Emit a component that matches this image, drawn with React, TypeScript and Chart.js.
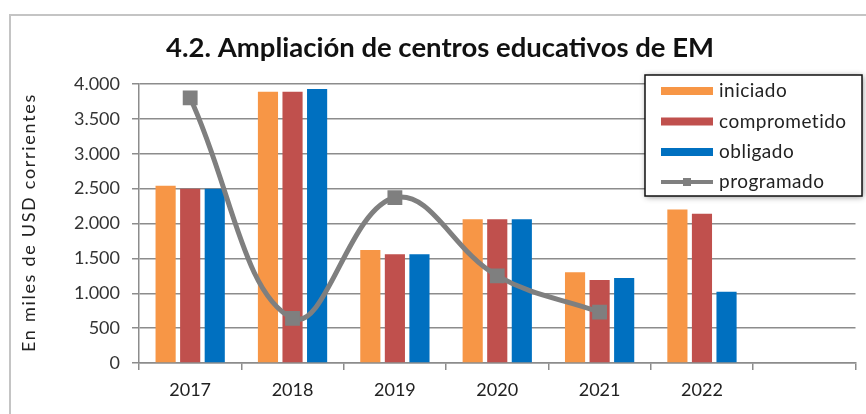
import { useEffect, useRef } from "react";
import { Chart, registerables } from "chart.js";

Chart.register(...registerables);

const categories = ["2017", "2018", "2019", "2020", "2021", "2022", ""];
const iniciado = [2540, 3890, 1620, 2060, 1300, 2200, null];
const comprometido = [2500, 3890, 1560, 2060, 1190, 2140, null];
const obligado = [2500, 3930, 1560, 2060, 1220, 1020, null];
const programado = [3800, 640, 2370, 1250, 730, null, null];
const yMin = 0;
const yMax = 4000;
const yStep = 500;

const chartTitle = "4.2. Ampliación de centros educativos de EM";
const yAxisTitle = "En miles de USD corrientes";

const seriesNames = ["iniciado", "comprometido", "obligado", "programado"];
const seriesColors = ["#F79646", "#C0504D", "#0070C0", "#7F7F7F"];

const FONT = "Lato, 'Open Sans', sans-serif";
const GRID = "#8c8c8c";

function fmt(v: number): string {
  return String(v).replace(/\B(?=(\d{3})+(?!\d))/g, ".");
}

const framePlugin = {
  id: "frame",
  beforeDraw(chart: any) {
    const ctx = chart.ctx;
    ctx.save();
    ctx.fillStyle = "#ffffff";
    ctx.fillRect(0, 0, chart.width, chart.height);
    ctx.strokeStyle = "#c4c4c4";
    ctx.lineWidth = 2;
    ctx.beginPath();
    ctx.moveTo(10, chart.height);
    ctx.lineTo(10, 15);
    ctx.lineTo(chart.width, 15);
    ctx.stroke();
    ctx.restore();
  },
  afterDraw(chart: any) {
    const ctx = chart.ctx;
    ctx.save();
    // title
    ctx.letterSpacing = "0px";
    ctx.fillStyle = "#111111";
    ctx.font = `bold 27.5px ${FONT}`;
    ctx.textAlign = "center";
    ctx.textBaseline = "alphabetic";
    ctx.fillText(chartTitle, 440, 57);

    // y axis title
    const area = chart.chartArea;
    ctx.save();
    ctx.letterSpacing = "1.7px";
    ctx.font = `18px ${FONT}`;
    ctx.fillStyle = "#222222";
    ctx.translate(35, (area.top + area.bottom) / 2 - 1);
    ctx.rotate(-Math.PI / 2);
    ctx.textAlign = "center";
    ctx.textBaseline = "alphabetic";
    ctx.fillText(yAxisTitle, 0, 0);
    ctx.restore();

    // legend box
    const bx = 645, by = 75, bw = 217, bh = 121;
    ctx.save();
    ctx.shadowColor = "rgba(0,0,0,0.45)";
    ctx.shadowBlur = 6;
    ctx.shadowOffsetX = 1;
    ctx.shadowOffsetY = 1;
    ctx.fillStyle = "#ffffff";
    ctx.fillRect(bx, by, bw, bh);
    ctx.restore();
    ctx.strokeStyle = "#111111";
    ctx.lineWidth = 1.5;
    ctx.strokeRect(bx, by, bw, bh);

    const rowY = [91, 121.5, 152, 182];
    ctx.letterSpacing = "0.5px";
    ctx.font = `19px ${FONT}`;
    ctx.textAlign = "left";
    ctx.textBaseline = "middle";
    seriesNames.forEach((name, i) => {
      const y = rowY[i];
      ctx.fillStyle = seriesColors[i];
      if (i < 3) {
        ctx.fillRect(661, y - 4, 52, 8);
      } else {
        ctx.fillRect(661, y - 2, 52, 4);
        ctx.fillRect(683, y - 4, 8, 8);
      }
      ctx.fillStyle = "#222222";
      ctx.fillText(name, 719, y);
    });
    ctx.restore();
  },
};

export default function App() {
  const ref = useRef<HTMLCanvasElement>(null);

  useEffect(() => {
    document.body.style.overflow = "hidden";
    const canvas = ref.current;
    if (!canvas) return;
    const chart = new Chart(canvas, {
      type: "bar",
      data: {
        labels: categories,
        datasets: [
          {
            type: "line",
            label: seriesNames[3],
            data: programado,
            borderColor: seriesColors[3],
            backgroundColor: seriesColors[3],
            borderWidth: 5,
            tension: 0.4,
            pointStyle: "rect",
            pointRadius: 10.5,
            pointBorderWidth: 0,
            pointBackgroundColor: seriesColors[3],
            spanGaps: false,
            order: 0,
          } as any,
          {
            label: seriesNames[0],
            data: iniciado,
            backgroundColor: seriesColors[0],
            categoryPercentage: 0.72,
            barPercentage: 0.82,
            order: 1,
          },
          {
            label: seriesNames[1],
            data: comprometido,
            backgroundColor: seriesColors[1],
            categoryPercentage: 0.72,
            barPercentage: 0.82,
            order: 1,
          },
          {
            label: seriesNames[2],
            data: obligado,
            backgroundColor: seriesColors[2],
            categoryPercentage: 0.72,
            barPercentage: 0.82,
            order: 1,
          },
        ],
      },
      options: {
        animation: false,
        responsive: true,
        maintainAspectRatio: false,
        layout: { padding: { top: 84, left: 0, right: 0, bottom: 0 } },
        plugins: {
          legend: { display: false },
          title: { display: false },
          tooltip: { enabled: false },
        },
        scales: {
          x: {
            grid: {
              offset: true,
              drawOnChartArea: false,
              drawTicks: true,
              tickLength: 7,
              color: GRID,
              lineWidth: 1.5,
            },
            border: { display: true, color: GRID, width: 1.5 },
            ticks: {
              color: "#222222",
              font: { family: FONT, size: 18 },
              padding: 9,
              maxRotation: 0,
            },
            afterFit: (s: any) => {
              s.height = 51;
            },
          },
          y: {
            min: yMin,
            max: yMax,
            ticks: {
              stepSize: yStep,
              color: "#333333",
              font: { family: FONT, size: 18 },
              padding: 12,
              callback: (v: any) => fmt(Number(v)),
            },
            grid: {
              color: GRID,
              lineWidth: 1.5,
              drawTicks: true,
              tickLength: 7,
            },
            border: { display: true, color: GRID, width: 1.5 },
            afterFit: (s: any) => {
              s.width = 139;
            },
          },
        },
      },
      plugins: [framePlugin],
    });
    return () => chart.destroy();
  }, []);

  return (
    <div style={{ position: "fixed", left: 0, top: 0, width: 866, height: 414 }}>
      <canvas ref={ref} />
    </div>
  );
}
